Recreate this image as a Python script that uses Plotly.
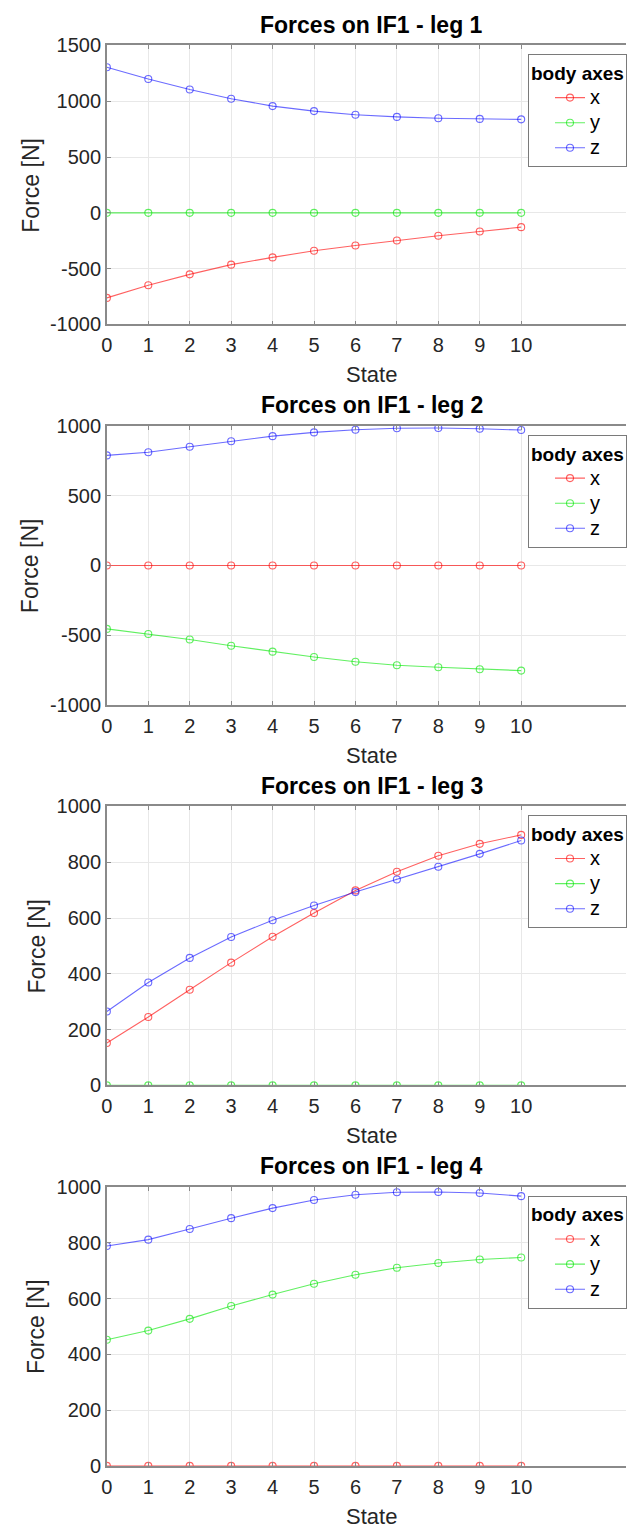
import plotly.graph_objects as go

W, H = 627, 1537

states = list(range(11))
series_names = ["x", "y", "z"]
panel_titles = ["Forces on IF1 - leg 1", "Forces on IF1 - leg 2",
                "Forces on IF1 - leg 3", "Forces on IF1 - leg 4"]

# leg 1
leg1_x = [-762, -649, -551, -464, -399, -339, -292, -247, -205, -167, -128]
leg1_y = [0, 0, 0, 0, 0, 0, 0, 0, 0, 0, 0]
leg1_z = [1305, 1200, 1105, 1023, 957, 912, 879, 860, 848, 842, 838]
# leg 2
leg2_x = [0, 0, 0, 0, 0, 0, 0, 0, 0, 0, 0]
leg2_y = [-455, -491, -531, -576, -618, -656, -690, -716, -730, -744, -754]
leg2_z = [789, 812, 851, 890, 927, 954, 973, 984, 985, 980, 971]
# leg 3
leg3_x = [152, 245, 343, 440, 533, 618, 699, 766, 823, 866, 898]
leg3_y = [0, 0, 0, 0, 0, 0, 0, 0, 0, 0, 0]
leg3_z = [265, 369, 457, 532, 592, 645, 693, 738, 784, 830, 878]
# leg 4
leg4_x = [0, 0, 0, 0, 0, 0, 0, 0, 0, 0, 0]
leg4_y = [452, 485, 527, 573, 614, 653, 685, 710, 727, 740, 747]
leg4_z = [788, 811, 849, 888, 924, 953, 972, 981, 982, 978, 967]

panels = [
    (leg1_x, leg1_y, leg1_z),
    (leg2_x, leg2_y, leg2_z),
    (leg3_x, leg3_y, leg3_z),
    (leg4_x, leg4_y, leg4_z),
]
y_tickvals = [
    [-1000, -500, 0, 500, 1000, 1500],
    [-1000, -500, 0, 500, 1000],
    [0, 200, 400, 600, 800, 1000],
    [0, 200, 400, 600, 800, 1000],
]
y_ticktext = [
    ["-1000", "-500", "0", "500", "1000", "1500"],
    ["-1000", "-500", "0", "500", "1000"],
    ["0", "200", "400", "600", "800", "1000"],
    ["0", "200", "400", "600", "800", "1000"],
]
x_tickvals = list(range(0, 11))
x_ticktext = [str(v) for v in x_tickvals]

colors = ["rgba(255,0,0,0.62)", "rgba(0,230,0,0.62)", "rgba(0,0,255,0.58)"]

# layout geometry (pixels)
plot_left = 102
plot_tops = [35, 421, 807, 1193]
plot_h = 283
legend_left = 528
legend_offset = 9
x_units_visible = 12.53

FONT = "Liberation Sans, Arial, sans-serif"
TXT = "#262626"
AXC = "#8a8a8a"
GRID = "#e8e8e8"

def py(px):
    return 1 - px / H

fig = go.Figure()
layout = dict(
    width=W, height=H,
    margin=dict(l=0, r=0, t=0, b=0),
    paper_bgcolor="white", plot_bgcolor="white",
    font=dict(family=FONT, color=TXT, size=20),
    showlegend=True,
)
annotations = []
shapes = []

for i, (sx, sy, sz) in enumerate(panels):
    n = i + 1
    xa = "x" if n == 1 else f"x{n}"
    ya = "y" if n == 1 else f"y{n}"
    lg = "legend" if n == 1 else f"legend{n}"
    for name, vals, col in zip(series_names, (sx, sy, sz), colors):
        fig.add_trace(go.Scatter(
            x=states, y=vals, name=f'<span style="font-size:20px">{name}</span>',
            mode="lines+markers",
            line=dict(color=col, width=1.1),
            marker=dict(symbol="circle-open", size=7, color=col, line=dict(width=1.1, color=col)),
            xaxis=xa, yaxis=ya, legend=lg,
        ))
    top = plot_tops[i]
    bot = top + plot_h
    layout["xaxis" if n == 1 else f"xaxis{n}"] = dict(
        domain=[plot_left / W, 1.0], anchor=ya, range=[0, x_units_visible],
        tickmode="array", tickvals=x_tickvals, ticktext=x_ticktext,
        showgrid=True, gridcolor=GRID, gridwidth=1,
        showline=True, linecolor=AXC, linewidth=1.5, mirror="ticks",
        ticks="inside", ticklen=4, tickcolor=AXC, zeroline=False,
        ticklabelstandoff=2,
        tickfont=dict(size=20, color=TXT, family=FONT),
    )
    yr = y_tickvals[i]
    layout["yaxis" if n == 1 else f"yaxis{n}"] = dict(
        domain=[py(bot), py(top)], anchor=xa, range=[yr[0], yr[-1]],
        tickmode="array", tickvals=y_tickvals[i], ticktext=y_ticktext[i],
        showgrid=True, gridcolor=GRID, gridwidth=1,
        showline=True, linecolor=AXC, linewidth=1.5,
        ticks="inside", ticklen=4, tickcolor=AXC, zeroline=False,
        tickfont=dict(size=20, color=TXT, family=FONT),
    )
    layout[lg] = dict(
        x=legend_left / W, xanchor="left",
        y=py(top + legend_offset), yanchor="top",
        bgcolor="white", bordercolor="#7a7a7a", borderwidth=1,
        font=dict(size=17, color="black", family=FONT),
        title=dict(text="<b>body axes</b>", font=dict(size=19, color="black", family=FONT), side="top"),
        indentation=21, itemwidth=30, tracegroupgap=0,
    )
    # separator line below legend title
    sep = top + legend_offset + 28
    shapes.append(dict(type="line", xref="paper", yref="paper",
                       x0=legend_left / W, x1=1.0, y0=py(sep), y1=py(sep),
                       line=dict(color="#7a7a7a", width=1)))
    # title
    annotations.append(dict(text=f"<b>{panel_titles[i]}</b>", xref="paper", yref="paper",
                            x=370 / W, y=py(top - 21), xanchor="center", yanchor="middle",
                            showarrow=False, font=dict(size=23, color="black", family=FONT)))
    # x label
    annotations.append(dict(text="State", xref="paper", yref="paper",
                            x=370 / W, y=py(bot + 51), xanchor="center", yanchor="middle",
                            showarrow=False, font=dict(size=22, color=TXT, family=FONT)))
    # y label
    ylx = 25 if i < 2 else 31
    annotations.append(dict(text="Force [N]", xref="paper", yref="paper", textangle=-90,
                            x=ylx / W, y=py((top + bot) / 2), xanchor="center", yanchor="middle",
                            showarrow=False, font=dict(size=23, color=TXT, family=FONT)))

layout["annotations"] = annotations
layout["shapes"] = shapes
fig.update_layout(**layout)
fig.write_html("out.html")
